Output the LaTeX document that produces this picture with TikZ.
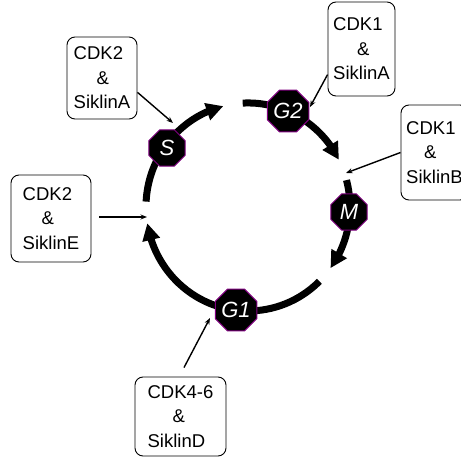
\documentclass[tikz,border=0pt]{standalone}
\usepackage{fontspec}
\setmainfont{Liberation Sans}
\usetikzlibrary{shapes.geometric,arrows.meta,bending,calc}
\definecolor{octpurple}{RGB}{128,0,128}
\begin{document}
\begin{tikzpicture}[x=1pt,y=1pt,
  phase/.style={regular polygon, regular polygon sides=8, minimum size=39pt, inner sep=0pt,
    fill=black, draw=octpurple, line width=1pt, text=white,
    font=\fontsize{22}{22}\selectfont\itshape},
  cdkbox/.style={draw=black, line width=0.9pt, rounded corners=8pt, align=left, inner sep=0pt,
    font=\fontsize{18.5}{24.5}\selectfont},
  cyclearc/.style={line width=7pt, -{Triangle[length=17pt,width=17pt,flex]}},
  reg/.style={line width=1.4pt, -{Stealth[length=6.5pt,width=5pt]}}]
\useasboundingbox (0,0) rectangle (461,459);
\fill[white] (0,0) rectangle (461,459);
\clip (0,0) rectangle (461,459);

% cycle arcs
\draw[cyclearc] (319.4,177.7) arc[start angle=-45.6, end angle=-171, x radius=102, y radius=104];
\draw[cyclearc] (146.1,257.4) arc[start angle=177, end angle=104, x radius=102, y radius=104];
\draw[cyclearc] (242.7,355.9) arc[start angle=93, end angle=27, x radius=102, y radius=104];
\draw[cyclearc] (346.5,278.9) arc[start angle=15, end angle=-36, x radius=102, y radius=104];

% phases
\node[phase] (S) at (167,311) {S};
\node[phase] (G2) at (288,348) {G2};
\node[phase] (M) at (349,247) {M};
\node[phase] (G1) at (236,149) {G1};

% regulator boxes
\node[cdkbox, minimum width=70pt, minimum height=82pt] (b1) at (102,381) {CDK2\\\hspace*{23pt}\&\\SiklinA};
\node[cdkbox, minimum width=67pt, minimum height=94pt] (b2) at (361.5,410) {CDK1\\\hspace*{24pt}\&\\SiklinA};
\node[cdkbox, minimum width=67pt, minimum height=95pt] (b3) at (434.5,306.5) {CDK1\\\hspace*{18pt}\&\\SiklinB};
\node[cdkbox, minimum width=80pt, minimum height=87pt] (b4) at (51,240.5) {CDK2\\\hspace*{19pt}\&\\SiklinE};
\node[cdkbox, minimum width=91pt, minimum height=79pt] (b5) at (180.5,42.5) {CDK4-6\\\hspace*{25pt}\&\\SiklinD};

% targets on the cycle
\coordinate (t1) at (173,336);
\coordinate (t2) at (310,352);
\coordinate (t3) at (346,286);
\coordinate (t4) at (147,242);
\coordinate (t5) at (210,141);

\draw[reg] (b1.-22) -- (t1);
\draw[reg] (b2.217) -- (t2);
\draw[reg] (b3.west) -- (t3);
\draw[reg] ([shift={(8,1.5)}]b4.east) -- (t4);
\draw[reg] ($(b5.north)+(3.5,9)$) -- (t5);
\end{tikzpicture}
\end{document}
